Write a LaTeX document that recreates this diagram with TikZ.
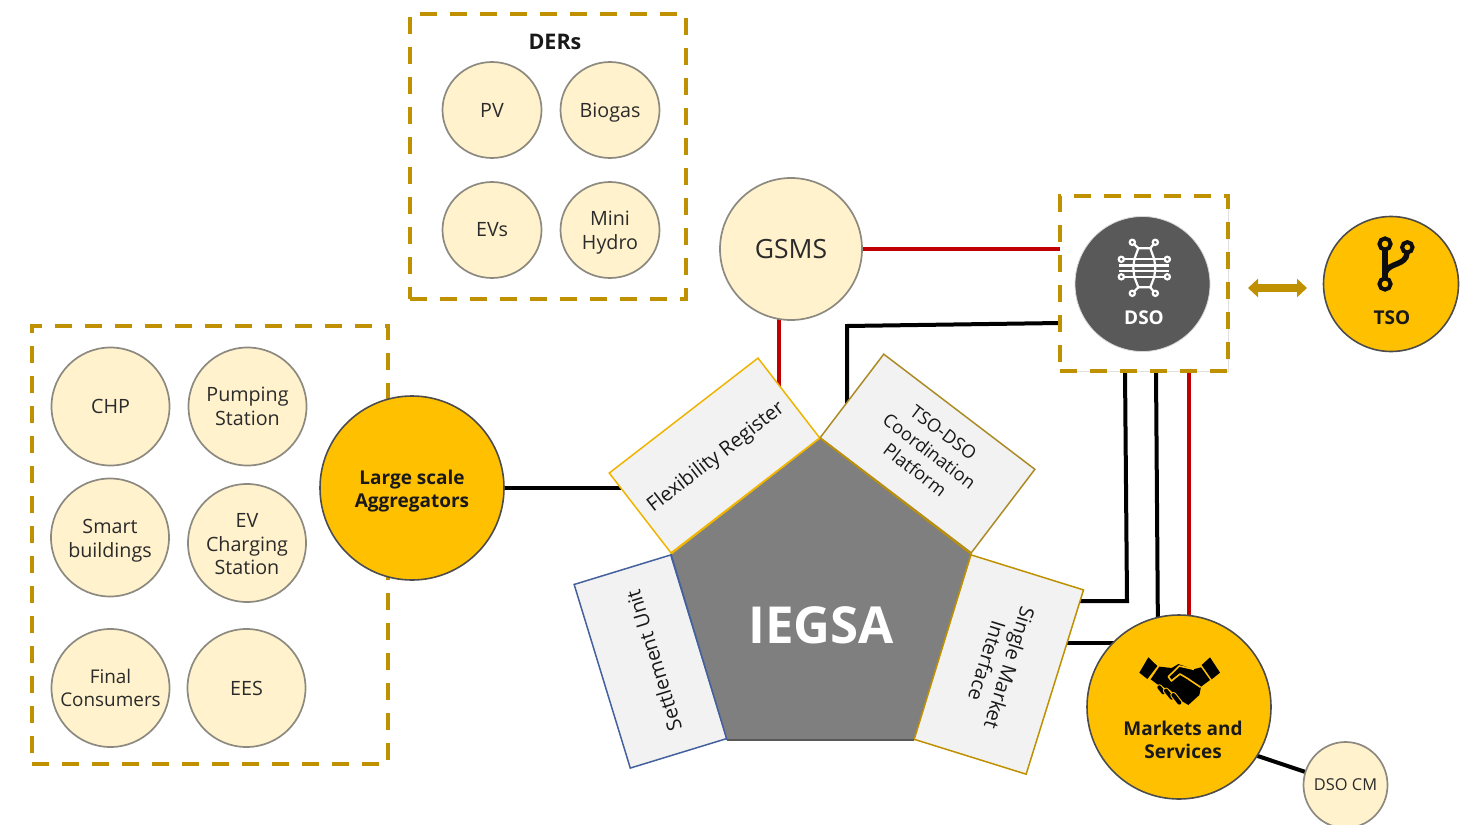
\documentclass[tikz,border=0pt]{standalone}
\usepackage{fontspec}
\setmainfont{Open Sans}
\usetikzlibrary{shapes.geometric,arrows.meta}
\definecolor{cream}{HTML}{FFF2CC}
\definecolor{amber}{HTML}{FFC000}
\definecolor{dashgold}{HTML}{BF9000}
\definecolor{ringgray}{HTML}{8C8A80}
\definecolor{txt}{HTML}{2B2B2B}
\definecolor{panelfill}{HTML}{F2F2F2}
\definecolor{redline}{HTML}{C00000}
\definecolor{pentagray}{HTML}{7F7F7F}
\definecolor{dsogray}{HTML}{595959}
\definecolor{bluerim}{HTML}{44619D}
\pgfdeclarelayer{conn}
\pgfsetlayers{conn,main}
\newcommand{\pushdn}[1]{\rule{0pt}{#1pt}}
\tikzset{
  x=1pt,y=-1pt,
  every node/.style={inner sep=0pt,outer sep=0pt,align=center},
  dashbox/.style={rectangle,draw=dashgold,line width=4.5pt,dash pattern=on 17pt off 13pt},
  bub/.style={ellipse,inner sep=-16pt,draw=ringgray,line width=1.7pt,fill=cream,text=txt,font=\fontsize{19.7}{23.5}\selectfont},
  gold/.style={circle,draw=black!70,line width=1.6pt,fill=amber,font=\fontsize{19}{23}\selectfont\bfseries,text=black!90},
  panel/.style={rectangle,fill=panelfill,line width=1.5pt,text=black!90,font=\fontsize{20}{23.5}\selectfont},
  wire/.style={line width=4pt,draw=black},
  redwire/.style={line width=4pt,draw=redline},
  blab/.style={font=\fontsize{19}{23}\selectfont\bfseries},
}
\begin{document}
\begin{tikzpicture}
\useasboundingbox (0,0) rectangle (1466,824);
% dashed groups
\node[dashbox,minimum width=276pt,minimum height=285pt] (dersbox) at (548,156.5) {};
\node[dashbox,minimum width=356pt,minimum height=438pt] (leftbox) at (210,545) {};
\node[dashbox,fill=white,minimum width=168pt,minimum height=175pt,preaction={draw=black!12,line width=1pt,solid}] (dsobox) at (1144,283.5) {};
\node[font=\fontsize{21.5}{25}\selectfont\bfseries,text=black!90] (derslbl) at (555,42) {DERs};
% DER bubbles
\node[bub,minimum width=99pt,minimum height=96pt] (pv) at (492,110) {PV};
\node[bub,minimum width=99pt,minimum height=96pt] (biogas) at (610,110) {\pushdn{20}Biogas};
\node[bub,minimum width=99pt,minimum height=96pt] (evs) at (492,230) {EVs};
\node[bub,minimum width=99pt,minimum height=96pt] (hydro) at (610,230) {\pushdn{20}Mini\\[1pt]Hydro};
% left bubbles
\node[bub,minimum width=118pt,minimum height=118pt] (chp) at (110.5,406.5) {CHP};
\node[bub,minimum width=118pt,minimum height=118pt] (pump) at (247.5,406.5) {Pumping\\Station};
\node[bub,minimum width=118pt,minimum height=118pt] (smart) at (110,537.5) {\pushdn{21}Smart\\buildings};
\node[bub,minimum width=118pt,minimum height=118pt] (evc) at (247,543) {\pushdn{17}EV\\Charging\\Station};
\node[bub,minimum width=118pt,minimum height=118pt,font=\fontsize{18.9}{23}\selectfont] (final) at (110.5,688) {Final\\Consumers};
\node[bub,minimum width=118pt,minimum height=118pt] (ees) at (246.5,688) {EES};
\node[gold,minimum size=184pt] (agg) at (412,488) {\pushdn{20}Large scale\\Aggregators};
% GSMS, DSO, TSO
\node[bub,minimum width=142pt,minimum height=142pt,font=\fontsize{26.5}{30}\selectfont] (gsms) at (791,249) {GSMS};
\node[circle,fill=dsogray,draw=black!15,line width=.8pt,minimum size=135pt] (dso) at (1142.5,284) {};
\node[blab,text=white] (dsolbl) at (1144,317.5) {DSO};
\node[gold,minimum size=135pt] (tso) at (1391,284) {};
\node[blab,text=black!90] (tsolbl) at (1392,317.5) {TSO};
% network icon
\begin{scope}[shift={(1144.3,268.3)},draw=white,line width=2.2pt]
  \draw (-25,-2.8) -- (25,-2.8) (-25,2.8) -- (25,2.8);
  \draw (-21,-9) -- (21,-9) (-21,8.5) -- (21,8.5);
  \draw (-6,-20) -- (6,-20) -- (10,-9) -- (11,0) -- (10,8.5) -- (6,19) -- (-6,19) -- (-10,8.5) -- (-11,0) -- (-10,-9) -- cycle;
  \draw (-6,-20) -- (-10.5,-24.5) (6,-20) -- (9.5,-24.5) (-6,19) -- (-10.5,23.5) (6,19) -- (9.5,23.5);
  \foreach \px/\py in {-12/-26,11/-26,-12/25,11/25,-23/-9,23/-9,-23/8.5,23/8.5}
    \draw (\px,\py) circle (2.6);
  \fill[white] (-10,-9) circle (1.8) (10,-9) circle (1.8) (-10,8.5) circle (1.8) (10,8.5) circle (1.8) (-6,-20) circle (1.5) (6,-20) circle (1.5) (-6,19) circle (1.5) (6,19) circle (1.5);
\end{scope}
% branch icon
\begin{scope}[draw=black!95,line width=4pt]
  \draw[line width=6pt] (1385,250) -- (1385,278);
  \draw[line width=5.5pt] (1385,273) .. controls (1389,262) and (1406,266) .. (1407,253);
  \draw (1385,244) circle (5.6) (1407.3,247.3) circle (5.2) (1385,284) circle (5.6);
\end{scope}
\coordinate (arrA) at (1248,288);
\coordinate (arrB) at (1307,288);
\draw[draw=dashgold,line width=7.5pt,{Triangle[width=18pt,length=10pt]}-{Triangle[width=18pt,length=10pt]}] (arrA) -- (arrB);
% panels
\node[panel,draw=amber!75!dashgold,rotate=37.7,minimum width=188pt,minimum height=101pt] (flex) at (714.5,455.5) {\pushdn{21}Flexibility Register};
\node[panel,draw=dashgold!70!gray,rotate=-37.3,minimum width=190pt,minimum height=105pt,font=\fontsize{18.2}{23.5}\selectfont] (platform) at (927.5,453.5) {TSO-DSO\\Coordination\\Platform\rule[-6pt]{0pt}{1pt}};
\node[panel,draw=dashgold,rotate=-107.3,minimum width=193pt,minimum height=118pt] (single) at (998.5,664.5) {Single Market\\Interface};
\node[panel,draw=bluerim,rotate=107,minimum width=192pt,minimum height=101pt] (settle) at (650.5,661.5) {\pushdn{22}Settlement Unit};
% pentagon
\coordinate (pA) at (820,438);
\coordinate (pB) at (971,554);
\coordinate (pC) at (914,740);
\coordinate (pD) at (727,740);
\coordinate (pE) at (671,554);
\fill[pentagray] (pA) -- (pB) -- (pC) -- (pD) -- (pE) -- cycle;
\draw[draw=amber!80!dashgold,line width=1.5pt] (pE) -- (pA);
\draw[draw=dashgold,line width=1.5pt] (pA) -- (pB) -- (pC);
\draw[draw=black!65,line width=1.2pt] (pC) -- (pD);
\draw[draw=bluerim,line width=1.5pt] (pD) -- (pE);
\node[font=\fontsize{51}{55}\selectfont\bfseries,text=white] (iegsa) at (821,625) {IEGSA};
% markets
\node[gold,minimum size=184pt] (markets) at (1179,707) {};
\node[blab,text=black!90] (marketslbl) at (1183,740) {Markets and\\Services};
% handshake icon
\begin{scope}[shift={(1130,650)},scale=1/3]
  \fill[black] (55,22) -- (82,48) -- (52,87) -- (28,68) -- cycle;
  \fill[black] (240,22) -- (270,68) -- (245,88) -- (215,45) -- cycle;
  \fill[black] (88,50) -- (125,54) -- (145,42) -- (190,58) -- (213,52) -- (240,90) -- (213,110) -- (208,135) -- (175,165) -- (150,150) -- (120,120) -- (85,105) -- (62,88) -- cycle;
  \draw[draw=amber,line width=1.6pt,line join=round] (192,58) -- (148,48) -- (115,80) -- (124,93) -- (150,72) -- (172,85) -- (212,112);
  \foreach \ax/\ay/\bx/\by in {88/112/100/127,108/122/125/143,130/135/148/158}{
    \draw[draw=amber,line width=6.2pt,line cap=round] (\ax,\ay) -- (\bx,\by);
    \draw[draw=black,line width=4pt,line cap=round] (\ax,\ay) -- (\bx,\by);
  }
\end{scope}
\node[bub,minimum width=84pt,minimum height=86pt,font=\fontsize{16.4}{20}\selectfont] (dsocm) at (1345.5,785) {DSO CM};
% connectors
\begin{pgfonlayer}{conn}
\coordinate (platA) at (847,420);
\coordinate (platB) at (847,326);
\coordinate (dsoW) at (1060,323);
\coordinate (dsoS1) at (1125,371);
\coordinate (dsoS2) at (1156,371);
\coordinate (dsoS3) at (1188.5,371);
\coordinate (dsoS2e) at (1158,640);
\coordinate (singleA) at (1127,601);
\coordinate (singleB) at (1060,601);
\coordinate (singleC) at (1050,643);
\draw[redwire] (gsms.east) -- (gsms.east -| dsobox.west);
\draw[redwire] (gsms.260) -- (gsms.260 |- flex.center);
\draw[wire] (agg.east) -- (agg.east -| flex.center);
\draw[wire,line join=miter] (platA) -- (platB) -- (dsoW);
\draw[wire,line join=miter] (dsoS1) -- (singleA) -- (singleB);
\draw[wire] (dsoS2) -- (dsoS2e);
\draw[redwire] (dsoS3) -- (dsoS3 |- markets.center);
\draw[wire] (singleC) -- (singleC -| markets.center);
\draw[wire] (markets.-32) -- (dsocm.162);
\end{pgfonlayer}
\end{tikzpicture}
\end{document}
